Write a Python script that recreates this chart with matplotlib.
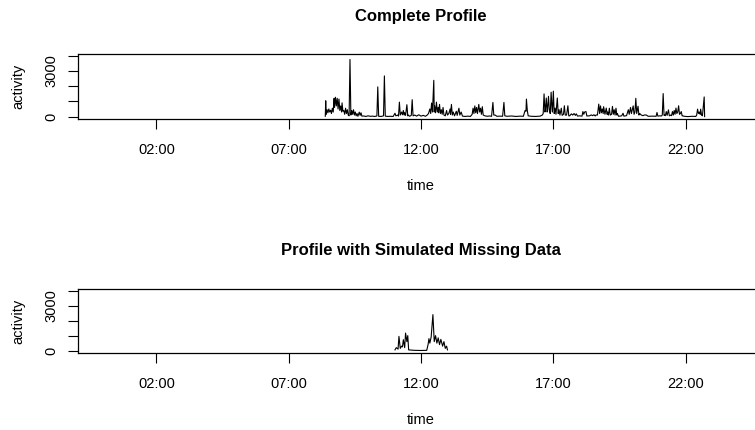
import matplotlib.pyplot as plt

plt.rcParams['font.family'] = ['Liberation Sans', 'DejaVu Sans']

# complete profile: clock time and activity counts
full_times = [
    "08:23", "08:24", "08:25", "08:27", "08:29", "08:31", "08:33", "08:35", "08:37", "08:39",
    "08:41", "08:43", "08:44", "08:46", "08:48", "08:50", "08:52", "08:54", "08:56", "08:58",
    "09:00", "09:01", "09:03", "09:05", "09:07", "09:09", "09:11", "09:13", "09:15", "09:17",
    "09:19", "09:21", "09:23", "09:25", "09:27", "09:29", "09:31", "09:33", "09:35", "09:37",
    "09:40", "09:42", "09:44", "09:46", "09:50", "09:55", "10:00", "10:05", "10:10", "10:15",
    "10:20", "10:22", "10:24", "10:30", "10:35", "10:37", "10:39", "10:45", "10:50", "10:57",
    "10:59", "11:01", "11:03", "11:07", "11:09", "11:11", "11:13", "11:16", "11:18", "11:20",
    "11:22", "11:23", "11:25", "11:28", "11:30", "11:31", "11:34", "11:38", "11:40", "11:42",
    "11:46", "11:50", "11:55", "12:00", "12:05", "12:10", "12:14", "12:17", "12:20", "12:22",
    "12:24", "12:26", "12:29", "12:30", "12:31", "12:33", "12:35", "12:37", "12:39", "12:40",
    "12:42", "12:44", "12:46", "12:48", "12:50", "12:52", "12:55", "12:58", "13:00", "13:03",
    "13:06", "13:07", "13:09", "13:11", "13:13", "13:16", "13:20", "13:22", "13:26", "13:28",
    "13:31", "13:34", "13:40", "13:46", "13:52", "13:56", "13:58", "14:00", "14:02", "14:04",
    "14:06", "14:08", "14:11", "14:13", "14:15", "14:17", "14:19", "14:21", "14:25", "14:30",
    "14:35", "14:40", "14:43", "14:45", "14:48", "14:52", "14:59", "15:05", "15:08", "15:10",
    "15:15", "15:25", "15:35", "15:45", "15:52", "15:56", "15:58", "15:59", "16:01", "16:03",
    "16:10", "16:20", "16:30", "16:35", "16:37", "16:39", "16:41", "16:42", "16:44", "16:46",
    "16:47", "16:49", "16:51", "16:53", "16:55", "16:57", "16:58", "17:00", "17:02", "17:04",
    "17:06", "17:09", "17:11", "17:13", "17:15", "17:18", "17:20", "17:23", "17:25", "17:27",
    "17:30", "17:33", "17:35", "17:37", "17:41", "17:44", "17:47", "17:50", "17:52", "17:55",
    "17:59", "18:05", "18:07", "18:09", "18:11", "18:14", "18:16", "18:22", "18:26", "18:29",
    "18:32", "18:35", "18:37", "18:40", "18:43", "18:45", "18:47", "18:49", "18:51", "18:53",
    "18:54", "18:57", "19:00", "19:02", "19:03", "19:05", "19:07", "19:09", "19:12", "19:14",
    "19:16", "19:18", "19:20", "19:22", "19:24", "19:25", "19:28", "19:35", "19:38", "19:40",
    "19:46", "19:50", "19:52", "19:55", "19:57", "20:01", "20:03", "20:05", "20:07", "20:09",
    "20:12", "20:14", "20:16", "20:19", "20:23", "20:27", "20:31", "20:35", "20:45", "20:53",
    "20:55", "20:57", "21:01", "21:05", "21:07", "21:09", "21:11", "21:12", "21:14", "21:16",
    "21:18", "21:21", "21:23", "21:26", "21:28", "21:30", "21:32", "21:34", "21:36", "21:38",
    "21:40", "21:42", "21:44", "21:46", "21:48", "21:50", "21:52", "21:53", "21:57", "22:05",
    "22:15", "22:23", "22:25", "22:27", "22:29", "22:31", "22:33", "22:34", "22:36", "22:38",
    "22:42", "22:43",
]
full_activity = [
    20, 1040, 150, 450, 250, 500, 300, 420, 200, 550,
    300, 1200, 600, 1270, 700, 1200, 500, 1150, 400, 700,
    300, 900, 350, 400, 150, 550, 200, 450, 100, 50,
    3750, 100, 400, 150, 450, 100, 300, 50, 200, 20,
    290, 80, 250, 30, 40, 10, 50, 20, 30, 10,
    40, 1950, 20, 10, 50, 2670, 30, 10, 20, 10,
    120, 220, 50, 100, 30, 950, 100, 300, 120, 400,
    100, 250, 80, 780, 50, 100, 20, 80, 1110, 50,
    100, 30, 120, 30, 80, 20, 100, 200, 500, 200,
    890, 300, 2380, 300, 700, 250, 950, 300, 600, 250,
    800, 200, 450, 150, 600, 100, 50, 400, 100, 200,
    500, 150, 800, 100, 300, 50, 350, 80, 550, 100,
    300, 30, 10, 30, 10, 150, 550, 200, 700, 250,
    600, 200, 800, 300, 550, 150, 650, 100, 50, 20,
    40, 20, 930, 100, 100, 20, 30, 20, 930, 50,
    20, 40, 10, 30, 20, 400, 350, 1150, 400, 50,
    20, 10, 30, 100, 200, 1490, 300, 400, 1220, 300,
    500, 1330, 400, 200, 1600, 500, 300, 1670, 200, 560,
    150, 1220, 200, 450, 100, 550, 80, 150, 710, 100,
    100, 710, 50, 50, 180, 100, 200, 80, 180, 30,
    50, 30, 330, 150, 300, 330, 40, 50, 110, 60,
    120, 40, 110, 100, 820, 200, 700, 250, 500, 200,
    650, 150, 560, 150, 300, 100, 550, 100, 150, 670,
    150, 450, 100, 550, 100, 200, 20, 50, 220, 30,
    60, 450, 150, 600, 200, 700, 150, 300, 1200, 200,
    680, 100, 200, 110, 60, 110, 100, 20, 30, 20,
    270, 30, 50, 40, 100, 1510, 80, 100, 60, 330,
    80, 440, 50, 100, 60, 330, 100, 400, 150, 560,
    200, 300, 710, 150, 200, 330, 50, 50, 20, 0,
    20, 10, 100, 490, 200, 300, 150, 490, 100, 50,
    1290, 0,
]

# profile with simulated missing data: only a window around midday kept
part_times = [
    "11:01", "11:04", "11:08", "11:10", "11:13", "11:16", "11:18", "11:20", "11:23", "11:25",
    "11:28", "11:30", "11:32", "11:45", "12:00", "12:13", "12:16", "12:18", "12:20", "12:23",
    "12:27", "12:30", "12:33", "12:36", "12:39", "12:42", "12:45", "12:49", "12:52", "12:55",
    "12:58", "13:00",
]
part_activity = [
    50, 200, 100, 950, 150, 300, 250, 730, 200, 1170,
    600, 1000, 50, 20, 10, 20, 400, 800, 500, 900,
    2400, 600, 1000, 500, 850, 400, 750, 300, 600, 150,
    300, 50,
]

hour_ticks = [2, 7, 12, 17, 22]
hour_labels = ["02:00", "07:00", "12:00", "17:00", "22:00"]
y_ticks = [0, 1000, 2000, 3000, 4000]
y_labels = ["0", "", "", "3000", ""]


def to_hours(stamps):
    out = []
    for s in stamps:
        h, m = s.split(":")
        out.append(int(h) + int(m) / 60)
    return out


W, H = 755, 430
fig = plt.figure(figsize=(W / 100, H / 100), dpi=100)

panels = [
    ("Complete Profile", full_times, full_activity, 54, 119, 16),
    ("Profile with Simulated Missing Data", part_times, part_activity, 289, 353, 251),
]

for title, times, acts, top, bottom, title_y in panels:
    # plot region runs past the right edge, as in the original
    ax = fig.add_axes([78 / W, 1 - bottom / H, 686 / W, (bottom - top) / H])
    ax.plot(to_hours(times), acts, color="black", lw=0.8)
    ax.set_xlim(-0.96, 24.96)
    ax.set_ylim(-158, 4108)
    ax.set_xticks(hour_ticks)
    ax.set_xticklabels(hour_labels)
    ax.set_yticks(y_ticks)
    ax.set_yticklabels(y_labels, rotation=90, va="center")
    ax.tick_params(axis="x", length=7, width=0.8, labelsize=10.5, pad=10)
    ax.tick_params(axis="y", length=7, width=0.8, labelsize=10.5, pad=7)
    for sp in ax.spines.values():
        sp.set_linewidth(0.9)
    ax.set_xlabel("time", fontsize=10.5, labelpad=16)
    ax.set_ylabel("activity", fontsize=10.5, labelpad=14)
    fig.text((78 + 764) / 2 / W, 1 - title_y / H, title, ha="center", va="center",
             fontsize=12, fontweight="bold")

plt.savefig("out.png", dpi=100)
